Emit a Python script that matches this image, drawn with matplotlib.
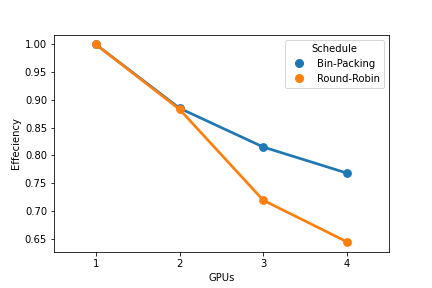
import matplotlib
matplotlib.use("Agg")
import matplotlib.pyplot as plt
from matplotlib.lines import Line2D
import seaborn as sns
import pandas as pd

gpus = [1, 2, 3, 4]
bin_packing = [1.0, 0.885, 0.815, 0.768]
round_robin = [1.0, 0.883, 0.719, 0.644]
schedules = ["Bin-Packing", "Round-Robin"]

df = pd.DataFrame({
    "GPUs": gpus * 2,
    "Effeciency": bin_packing + round_robin,
    "Schedule": [schedules[0]] * 4 + [schedules[1]] * 4,
})

fig, ax = plt.subplots(figsize=(6, 4), dpi=72)
fig.subplots_adjust(bottom=0.126)
sns.pointplot(data=df, x="GPUs", y="Effeciency", hue="Schedule", ax=ax)
colors = sns.color_palette()[:2]
handles = [Line2D([], [], linestyle="none", marker="o", markersize=8,
                  color=c) for c in colors]
ax.legend(handles, schedules, title="Schedule", loc="upper right")
fig.savefig("out.png", dpi=72)
